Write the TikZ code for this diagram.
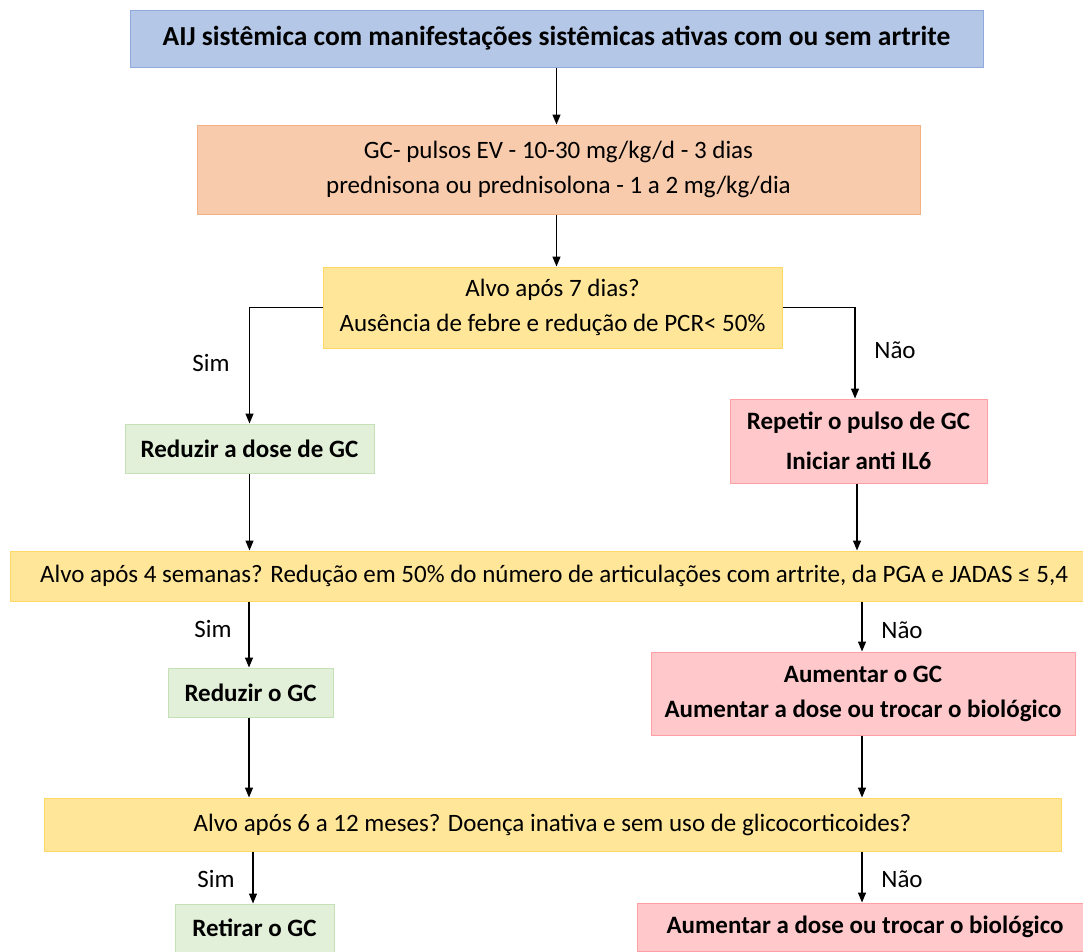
\documentclass[tikz,border=0pt]{standalone}
\usepackage{fontspec}
\setmainfont{Carlito}
\usetikzlibrary{arrows.meta}
\definecolor{bluef}{HTML}{B4C7E7}\definecolor{blued}{HTML}{8FAADC}
\definecolor{orf}{HTML}{F8CBAD}\definecolor{ord}{HTML}{F4B183}
\definecolor{yef}{HTML}{FFE699}\definecolor{yed}{HTML}{FFD966}
\definecolor{grf}{HTML}{E2F0D9}\definecolor{grd}{HTML}{C5E0B4}
\definecolor{pkf}{HTML}{FFC9CC}\definecolor{pkd}{HTML}{FF9FA4}
\tikzset{
 box/.style={draw, line width=1pt, inner sep=0pt, align=center, font=\fontsize{25}{35}\selectfont},
 bbox/.style={box, font=\bfseries\fontsize{25}{35}\selectfont},
 bluebox/.style={box, font=\bfseries\fontsize{27.5}{35}\selectfont, fill=bluef, draw=blued},
 orbox/.style={box, fill=orf, draw=ord},
 yebox/.style={box, fill=yef, draw=yed},
 grbox/.style={bbox, fill=grf, draw=grd},
 pkbox/.style={bbox, fill=pkf, draw=pkd},
 arr/.style={line width=1.3pt, -{Triangle[length=10pt,width=8pt]}},
 lab/.style={font=\fontsize{25}{28}\selectfont, inner sep=0pt}
}
\begin{document}
\begin{tikzpicture}[x=1pt,y=-1pt]
\useasboundingbox (0,0) rectangle (1083,951);
\clip (0,0) rectangle (1083,951);
\fill[white] (0,0) rectangle (1083,951);
\node[bluebox, minimum width=853, minimum height=57] (n1) at (556.5,38.5) {AIJ sistêmica com manifestações sistêmicas ativas com ou sem artrite};
\node[orbox, minimum width=723, minimum height=89] (n2) at (558.5,169.5) {GC- pulsos EV - 10-30 mg/kg/d - 3 dias\\prednisona ou prednisolona - 1 a 2 mg/kg/dia};
\node[yebox, minimum width=459, minimum height=81] (n3) at (552.5,307.5) {Alvo após 7 dias?\\Ausência de febre e redução de PCR< 50\%};
\node[grbox, minimum width=249, minimum height=49] (n4) at (249.5,448.5) {Reduzir a dose de GC};
\node[pkbox, font=\bfseries\fontsize{25}{40}\selectfont, minimum width=257, minimum height=84] (n5) at (858.5,441) {Repetir o pulso de GC\\Iniciar anti IL6};
\node[yebox, minimum width=1088, minimum height=50] (n6) at (554,576) {Alvo após 4 semanas? Redução em 50\% do número de articulações com artrite, da PGA e JADAS ≤ 5,4};
\node[grbox, minimum width=165, minimum height=49] (n7) at (250.5,692.5) {Reduzir o GC};
\node[pkbox, minimum width=424, minimum height=83] (n8) at (863,693.5) {Aumentar o GC\\Aumentar a dose ou trocar o biológico};
\node[yebox, minimum width=1017, minimum height=53] (n9) at (552.5,824.5) {Alvo após 6 a 12 meses? Doença inativa e sem uso de glicocorticoides?};
\node[grbox, minimum width=159, minimum height=48] (n10) at (254.5,928) {Retirar o GC};
\node[pkbox, minimum width=456, minimum height=48] (n11) at (865,927) {Aumentar a dose ou trocar o biológico};

\draw[arr] (n1.south) -- (n1.south |- n2.north);
\draw[arr] (n1.south |- n2.south) -- (n1.south |- n3.north);
\draw[arr] (n3.west) -| (n4.north);
\draw[arr] (n3.east) -| ([xshift=-3.5pt]n5.north);
\draw[arr] (n4.south) -- (n4.south |- n6.north);
\draw[arr] ([xshift=-1.5pt]n5.south) -- ([xshift=-1.5pt]n5.south |- n6.north);
\draw[arr] ([xshift=-1.5pt]n7.north |- n6.south) -- ([xshift=-1.5pt]n7.north);
\draw[arr] ([xshift=-1pt]n8.north |- n6.south) -- ([xshift=-1pt]n8.north);
\draw[arr] ([xshift=-1.5pt]n7.south) -- ([xshift=-1.5pt]n7.south |- n9.north);
\draw[arr] ([xshift=-1pt]n8.south) -- ([xshift=-1pt]n8.south |- n9.north);
\draw[arr] ([xshift=-1.5pt]n10.north |- n9.south) -- ([xshift=-1.5pt]n10.north);
\draw[arr] ([xshift=-3pt]n11.north |- n9.south) -- ([xshift=-3pt]n11.north);

\node[lab] (s1) at (211,363) {Sim};
\node[lab] (s2) at (213,629) {Sim};
\node[lab] (s3) at (216,879) {Sim};
\node[lab] (m1) at (895,350) {Não};
\node[lab] (m2) at (902,630) {Não};
\node[lab] (m3) at (902,879) {Não};
\end{tikzpicture}
\end{document}
